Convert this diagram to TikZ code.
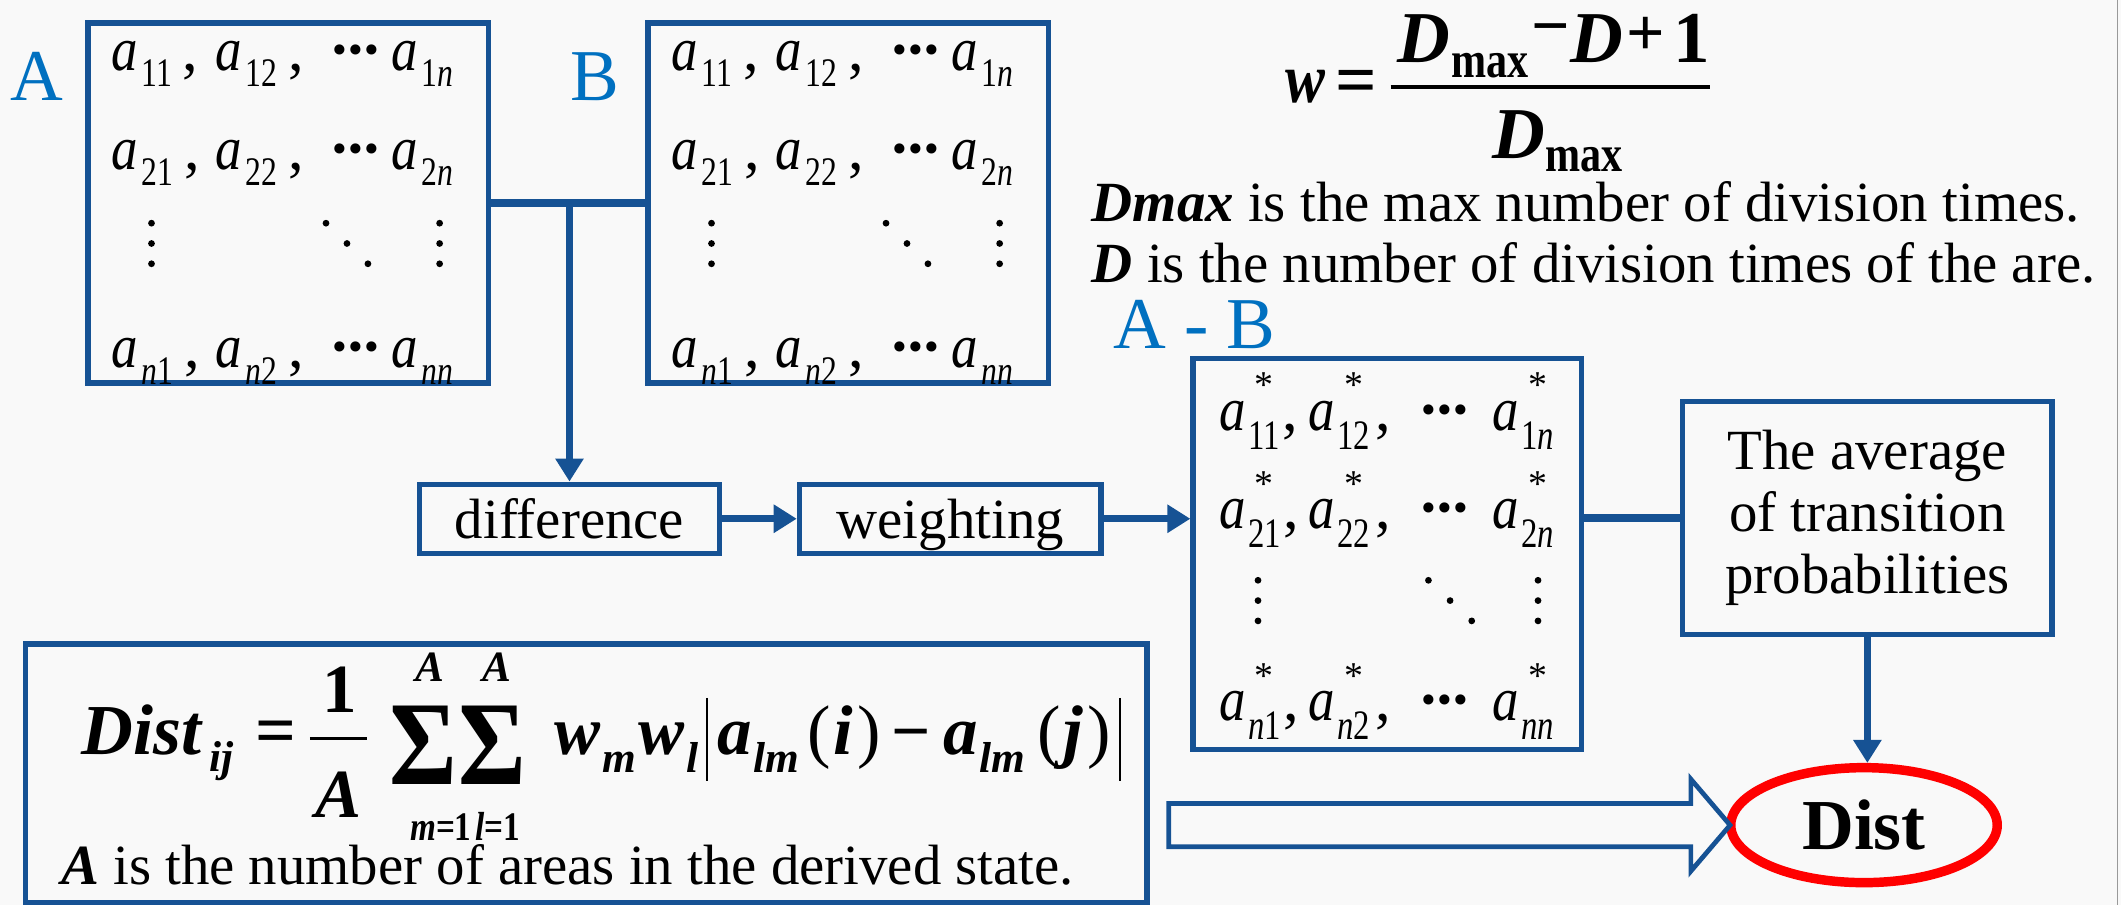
\documentclass[tikz,border=0pt]{standalone}
\usepackage{graphicx}
\usepackage{fontspec}
\setmainfont{Liberation Serif}
\newfontfamily\condit[FakeStretch=0.85]{Liberation Serif}
\newfontfamily\condsub[FakeStretch=0.78]{Liberation Serif}
\newfontfamily\condbf[FakeStretch=0.82]{Liberation Serif}
\usetikzlibrary{arrows.meta,shapes.geometric,calc}
\definecolor{bord}{RGB}{22,82,148}
\definecolor{lab}{RGB}{0,112,192}
\definecolor{bgc}{RGB}{249,249,249}
\definecolor{distred}{RGB}{255,0,0}
\newcommand{\bi}[1]{\textbf{\textit{#1}}}
\newcommand{\ma}{{\condit\itshape a}}
\newcommand{\msub}[1]{\raisebox{-12pt}{\condsub\fontsize{30}{30}\selectfont #1}}
\newcommand{\ssub}[1]{\raisebox{-14pt}{\condsub\fontsize{31}{31}\selectfont #1}}
\newcommand{\en}[1]{\ma\kern3pt\msub{#1}}
\newcommand{\es}[1]{\ma\kern2pt\rlap{\kern5pt\raisebox{24pt}{\fontsize{28}{28}\selectfont *}}\ssub{#1}}
\newcommand{\cd}{\makebox[12pt]{\textbf{·}}\makebox[12pt]{\textbf{·}}\makebox[12pt]{\textbf{·}}}
\newcommand{\mrow}[3]{\makebox[77pt][l]{\en{#1}\kern8pt,}\makebox[86pt][l]{\en{#2}\kern8pt,}\makebox[44pt][l]{\cd}\en{#3}}
\newcommand{\srow}[3]{\makebox[66pt][l]{\es{#1}\kern2pt,}\makebox[83pt][l]{\es{#2}\kern4pt,}\makebox[53pt][l]{\cd}\es{#3}}
\newcommand{\bigsig}{\resizebox{50pt}{58pt}{\bfseries\char"03A3}}
\newcommand{\dotgrid}[5]{%
  \foreach \k in {0,1,2}{%
    \fill ({#1},{#5+\k*15}) circle (2.5pt);
    \fill ({#2+\k*(#3-#2)/2},{#5+\k*15}) circle (2.5pt);
    \fill ({#4},{#5+\k*15}) circle (2.5pt);
  }}
\begin{document}
\begin{tikzpicture}[x=1pt,y=-1pt,
  box/.style={draw=bord, line width=4pt, inner sep=0pt},
  conn/.style={draw=bord, line width=5.5pt},
  arr/.style={conn, -{Triangle[length=17pt,width=20pt]}},
  mline/.style={anchor=base west, inner sep=0pt, font=\fontsize{46}{50}\selectfont},
  lbl/.style={anchor=base, inner sep=0pt, text=lab, font=\fontsize{54}{60}\selectfont},
  txt/.style={font=\fontsize{42}{46}\selectfont, inner sep=0pt},
  big/.style={anchor=base west, inner sep=0pt, font=\fontsize{51}{54}\selectfont\bfseries\itshape},
  bigc/.style={big, anchor=base},
  small/.style={anchor=base west, inner sep=0pt, font=\fontsize{32}{34}\selectfont\bfseries\itshape},
  smallc/.style={small, anchor=base},
  up/.style={anchor=base west, inner sep=0pt, font=\fontsize{52}{54}\selectfont},
  bup/.style={anchor=base west, inner sep=0pt, font=\fontsize{54}{56}\selectfont\bfseries},
  bmax/.style={anchor=base west, inner sep=0pt, font=\condbf\fontsize{38}{38}\selectfont\bfseries},
  hollow/.style={draw=bord, line width=3.5pt, fill=bgc, line join=miter},
]
\fill[bgc] (0,0) rectangle (1568,669);
\useasboundingbox (0,0) rectangle (1568,669);
\draw[black!40, line width=1.2pt] (1565.5,0) -- (1565.5,669);

% matrix A
\node[box, minimum width=296pt, minimum height=266pt] (bA) at (213,150) {};
\node[mline] (rA1) at (82,52) {\mrow{11}{12}{1\textit{n}}};
\node[mline] (rA2) at (82,125) {\mrow{21}{22}{2\textit{n}}};
\node[mline] (rA3) at (82,272) {\mrow{\textit{n}1}{\textit{n}2}{\textit{nn}}};
\dotgrid{112}{241}{272}{325}{165}
\node[lbl] (lA) at (27,74) {A};

% matrix B
\node[box, minimum width=296pt, minimum height=266pt] (bB) at (627,150) {};
\node[mline] (rB1) at (496,52) {\mrow{11}{12}{1\textit{n}}};
\node[mline] (rB2) at (496,125) {\mrow{21}{22}{2\textit{n}}};
\node[mline] (rB3) at (496,272) {\mrow{\textit{n}1}{\textit{n}2}{\textit{nn}}};
\dotgrid{526}{655}{686}{739}{165}
\node[lbl] (lB) at (440,74) {B};

% A - B matrix
\node[box, minimum width=287pt, minimum height=289pt] (bAB) at (1025.5,409.5) {};
\node[mline] (rC1) at (901,318) {\srow{11}{12}{1\textit{n}}};
\node[mline] (rC2) at (901,391) {\srow{21}{22}{2\textit{n}}};
\node[mline] (rC3) at (901,533) {\srow{\textit{n}1}{\textit{n}2}{\textit{nn}}};
\dotgrid{930}{1056}{1088}{1137}{429}
\node[lbl] (lAB) at (883,258) {A - B};

% process boxes
\node[box, txt, minimum width=222pt, minimum height=51pt, text height=29pt, text depth=0pt] (bDiff) at (421,383.5) {difference};
\node[box, txt, minimum width=223pt, minimum height=51pt, text height=29pt, text depth=0pt] (bW) at (702.5,383.5) {weighting};
\node[box, txt, minimum width=273pt, minimum height=172pt, align=center] (bAvg) at (1380.5,383) {The average\\of transition\\probabilities};

% Dist
\node[ellipse, draw=distred, line width=7pt, minimum width=197pt, minimum height=85pt, inner sep=0pt, font=\fontsize{53}{58}\selectfont\bfseries] (dist) at (1378,610) {Dist};

% weight formula
\node[big, font=\condit\fontsize{52}{54}\selectfont\bfseries\itshape] (ww) at (950,76) {w};
\node[bup] (weq) at (987,77) {=};
\node[big, font=\fontsize{54}{56}\selectfont\bfseries\itshape] (wn1) at (1033,46) {D};
\node[bmax] (wn2) at (1073,57) {max};
\node[bup, font=\fontsize{50}{50}\selectfont\bfseries] (wn3) at (1132,36) {\char"2212};
\node[big, font=\fontsize{54}{56}\selectfont\bfseries\itshape] (wn4) at (1161,46) {D};
\node[bup, font=\fontsize{50}{50}\selectfont\bfseries] (wn5) at (1202,41) {+};
\node[bup] (wn6) at (1237,46) {1};
\draw[line width=3pt] (wn1.base west |- 0,64) ++(-5,0) coordinate (wb0) -- (wn6.base east |- 0,64) coordinate (wb1);
\node[big, font=\fontsize{54}{56}\selectfont\bfseries\itshape] (wd1) at (1103,117) {D};
\node[bmax] (wd2) at (1142,127) {max};
\node[txt, anchor=base west] (t1) at (807,164) {\bi{Dmax} is the max number of division times.};
\node[txt, anchor=base west] (t2) at (807,209) {\bi{D} is the number of division times of the are.};

% distance formula box
\node[box, minimum width=829pt, minimum height=191pt] (bF) at (433.5,571.5) {};
\node[big, font=\fontsize{53}{56}\selectfont\bfseries\itshape] (fDist) at (60,558) {Dist};
\node[small] (fij) at (155,570) {ij};
\node[anchor=base west, inner sep=0pt, font=\fontsize{53}{56}\selectfont\bfseries] (feq) at (189,558) {=};
\node[anchor=base, inner sep=0pt, font=\fontsize{51}{54}\selectfont\bfseries] (f1) at (251,527) {1};
\node[bigc] (fA) at (250,604) {A};
\draw[line width=2.5pt] (229,546) coordinate (fb0) -- (271,546) coordinate (fb1);
\node[inner sep=0pt] (s1) at (313,551) {\bigsig};
\node[inner sep=0pt] (s2) at (364,551) {\bigsig};
\node[smallc] (s1t) at (318,504) {A};
\node[smallc] (s2t) at (367,504) {A};
\node[smallc, font=\condbf\fontsize{30}{32}\selectfont\bfseries\itshape] (slim) at (344,621) {m\textup{=1}\kern3pt l\textup{=1}};
\node[big] (fw1) at (410,558) {w};
\node[small] (fm1) at (445,571) {m};
\node[big] (fw2) at (472,558) {w};
\node[small] (fl1) at (507,571) {l};
\node[big] (fa1) at (530,558) {a};
\node[small] (flm1) at (557,571) {lm};
\node[up] (fp1) at (597,558) {(\kern2pt\bi{i}\kern3pt)};
\node[anchor=base west, inner sep=0pt, font=\fontsize{51}{54}\selectfont\bfseries] (fmin) at (659,558) {\char"2212};
\node[big] (fa2) at (697,558) {a};
\node[small] (flm2) at (724,571) {lm};
\node[up] (fp2) at (767,558) {(\kern2pt\bi{j}\kern3pt)};
\draw[line width=1.5pt] (523,516) coordinate (ab0) -- (523,577) coordinate (ab1);
\draw[line width=1.5pt] (828,516) coordinate (ab2) -- (828,577) coordinate (ab3);
\node[txt, anchor=base west] (t3) at (45,654) {\bi{A} is the number of areas in the derived state.};

% connectors
\draw[conn] (bA.east) -- (bB.west);
\draw[arr] (bDiff.north |- bA.east) -- (bDiff.north);
\draw[arr] (bDiff.east) -- (bW.west);
\draw[arr] (bW.east) -- (bW.east -| bAB.west);
\draw[conn] (bAB.east |- bAvg.west) -- (bAvg.west);
\draw[arr] (bAvg.south) -- (bAvg.south |- dist.north);

% hollow block arrow
\coordinate (tip) at ($(dist.west)+(3,0)$);
\coordinate (tail) at ($(bF.east |- tip)+(14,0)$);
\draw[hollow] ($(tail)+(0,-16)$) -- ($(tip)+(-29,-16)$) -- ($(tip)+(-29,-34)$) -- (tip)
  -- ($(tip)+(-29,34)$) -- ($(tip)+(-29,16)$) -- ($(tail)+(0,16)$) -- cycle;
\end{tikzpicture}
\end{document}
